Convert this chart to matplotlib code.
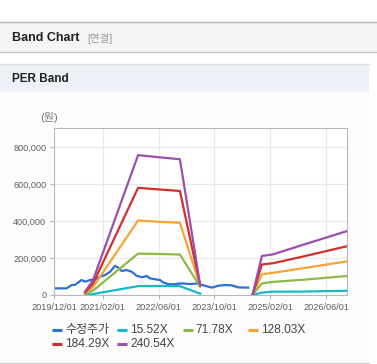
import numpy as np
import matplotlib
matplotlib.use('Agg')
import matplotlib.pyplot as plt
from matplotlib.patches import Rectangle
from matplotlib.lines import Line2D

plt.rcParams['font.family'] = ['Liberation Sans', 'Noto Sans CJK KR', 'DejaVu Sans']

# data: x in months since 2019/12/01
tick_months = [0, 14, 30, 46, 62, 78]
tick_labels = ['2019/12/01', '2021/02/01', '2022/06/01', '2023/10/01', '2025/02/01', '2026/06/01']

price_m = [0, 3.6, 5.1, 6.0, 7.9, 8.9, 10.3, 11.8, 13.2, 14.6, 16.1, 17.5, 18.4, 19.4, 20.8,
           22.3, 23.7, 25.2, 26.6, 27.5, 29.0, 30.4, 31.3, 32.8, 34.2, 36.6, 39.0, 40.9,
           43.3, 45.2, 47.1, 49.0, 51.0, 52.9, 55.7]
price = [36000, 36000, 54000, 55000, 81000, 72000, 81000, 85000, 99000, 108000, 126000,
         158000, 148000, 130000, 135000, 126000, 104000, 96000, 103000, 90000, 85000, 81000,
         68000, 59000, 58000, 63000, 59000, 62000, 50000, 40000, 50000, 54000, 52000, 41000, 40000]

band_m = [8.9, 11.2, 24.1, 30.4, 36.1, 41.9, 49.0, 56.9, 59.6, 62.8, 71.1, 84.0]
nan = np.nan
band_1552 = [1200, 5200, 48000, 49000, 48000, 7000, nan, 0, 13000, 18000, 18500, 23000]
band_7178 = [5400, 24000, 224000, 222000, 219000, 45000, nan, 0, 63000, 71000, 82000, 103000]
band_12803 = [9600, 43000, 403000, 396000, 391000, 50000, nan, 0, 112000, 120000, 144000, 182000]
band_18429 = [13800, 62000, 580000, 571000, 563000, 52000, nan, 0, 165000, 172000, 207000, 264000]
band_24054 = [18000, 81000, 757000, 745000, 735000, 55000, nan, 0, 211000, 220000, 270000, 346000]

names = ['수정주가', '15.52X', '71.78X', '128.03X', '184.29X', '240.54X']
colors = ['#2d6fd2', '#18b7c9', '#8db84a', '#f6a433', '#d32f2a', '#9a4fab']

W, H = 377, 364
fig = plt.figure(figsize=(W/100, H/100), dpi=100)
fig.patch.set_facecolor('white')

def fx(x):
    return x / W

def fy(y):
    return 1 - y / H

def rect(x0, y0, x1, y1, color):
    fig.add_artist(Rectangle((fx(x0), fy(y1)), fx(x1) - fx(x0), fy(y0) - fy(y1),
                             transform=fig.transFigure, color=color, lw=0, zorder=0))

def hline(y, x0, x1, color, lw=1):
    fig.add_artist(Line2D([fx(x0), fx(x1)], [fy(y), fy(y)], transform=fig.transFigure,
                          color=color, lw=lw, zorder=1))

# page frames
hline(22, 0, W, '#b4b4b4')
rect(0, 22.5, W, 52, '#f4f4f4')
hline(52, 0, W, '#c9c9c9')
hline(63.5, 0, 369, '#dedede')
rect(0, 64, 369, 92, '#edf1f7')
rect(0, 92, 369, 362, '#fcfcfc')
hline(362.5, 0, 369, '#d2d2d2')

fig.text(fx(12), fy(38), 'Band Chart', fontsize=9, fontweight='bold', color='#222222', va='center')
fig.text(fx(87), fy(38), '[연결]', fontsize=7.5, color='#9a9a9a', va='center')
fig.text(fx(12), fy(79.5), 'PER Band', fontsize=8.5, fontweight='bold', color='#222222', va='center')
fig.text(fx(49), fy(118), '(원)', fontsize=8, color='#777777', va='center', ha='center')

ax = fig.add_axes([fx(54), fy(295), fx(347) - fx(54), fy(128) - fy(295)])
ax.set_facecolor('white')
lw = 1.6
ax.plot(price_m, price, color=colors[0], lw=lw)
for vals, c in zip([band_1552, band_7178, band_12803, band_18429, band_24054], colors[1:]):
    ax.plot(band_m, vals, color=c, lw=lw)

ax.set_xlim(0, 84)
ax.set_ylim(0, 904000)
ax.set_xticks(tick_months)
ax.set_xticklabels(tick_labels)
yt = [0, 200000, 400000, 600000, 800000]
ax.set_yticks(yt)
ax.set_yticklabels([f'{v:,}' for v in yt])
ax.grid(True, color='#e8e8e8', lw=0.8)
ax.set_axisbelow(True)
for s in ax.spines.values():
    s.set_color('#b8b8b8')
    s.set_linewidth(0.8)
ax.tick_params(length=3, width=0.8, color='#b8b8b8', labelsize=6.6, labelcolor='#5e5e5e', pad=2.5)

# legend, row-major like the original
for i, (n, c) in enumerate(zip(names, colors)):
    col, row = i % 4, i // 4
    x0 = 52 + col * 65.3
    y0 = 330 + row * 14.3
    fig.add_artist(Line2D([fx(x0), fx(x0 + 10)], [fy(y0), fy(y0)], transform=fig.transFigure,
                          color=c, lw=2.2, solid_capstyle='butt'))
    fig.text(fx(x0 + 13), fy(y0), n, fontsize=8.6, color='#444444', va='center')

fig.savefig('out.png', dpi=100)
